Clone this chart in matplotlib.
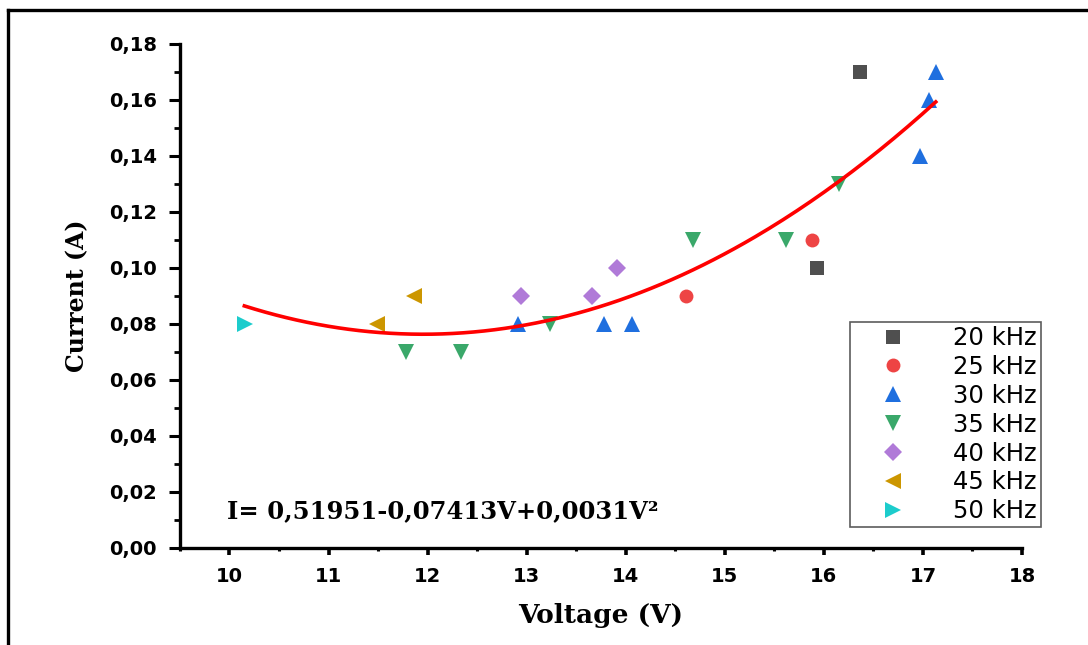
import matplotlib
matplotlib.use("Agg")
import matplotlib.pyplot as plt
import numpy as np
from matplotlib.lines import Line2D
from matplotlib.ticker import MultipleLocator, FuncFormatter

# ---- data ----
labels = ["20 kHz", "25 kHz", "30 kHz", "35 kHz", "40 kHz", "45 kHz", "50 kHz"]
v20 = [16.37, 15.93]
i20 = [0.17, 0.10]
v25 = [14.61, 15.88]
i25 = [0.09, 0.11]
v30 = [12.91, 13.78, 14.06, 16.97, 17.06, 17.13]
i30 = [0.08, 0.08, 0.08, 0.14, 0.16, 0.17]
v35 = [11.78, 12.34, 13.24, 14.68, 15.62, 16.15]
i35 = [0.07, 0.07, 0.08, 0.11, 0.11, 0.13]
v40 = [12.94, 13.66, 13.91]
i40 = [0.09, 0.09, 0.10]
v45 = [11.49, 11.86]
i45 = [0.08, 0.09]
v50 = [10.16]
i50 = [0.08]

# quadratic fit shown on the chart: I = a + b V + c V^2
fit_coeffs = [0.0031, -0.07413, 0.51951]
fit_range = [10.15, 17.13]
equation = "I= 0,51951-0,07413V+0,0031V²"

xticks = [10, 11, 12, 13, 14, 15, 16, 17, 18]
yticks = [0.00, 0.02, 0.04, 0.06, 0.08, 0.10, 0.12, 0.14, 0.16, 0.18]

series = [
    (v20, i20, "s", "#4f4f4f", 9.5),
    (v25, i25, "o", "#ee4444", 10),
    (v30, i30, "^", "#1f6fdf", 11.5),
    (v35, i35, "v", "#3aa86a", 11.5),
    (v40, i40, "D", "#b07ad8", 9),
    (v45, i45, "<", "#cc9600", 11.5),
    (v50, i50, ">", "#1ccccc", 11.5),
]

fig = plt.figure(figsize=(10.88, 6.45), dpi=100)
ax = fig.add_axes([0.1654, 0.1504, 0.9393 - 0.1654, 0.9318 - 0.1504])

for (xs, ys, mk, col, ms), lab in zip(series, labels):
    ax.plot(xs, ys, linestyle="none", marker=mk, color=col, markersize=ms,
            markeredgewidth=0, label=lab, zorder=3)

vv = np.linspace(fit_range[0], fit_range[1], 200)
ax.plot(vv, np.polyval(fit_coeffs, vv), color="#ff0000", lw=2.6, zorder=4)

ax.set_xlim(9.5, 18)
ax.set_ylim(0, 0.18)
ax.set_xticks(xticks)
ax.set_yticks(yticks)
ax.xaxis.set_minor_locator(MultipleLocator(0.5))
ax.yaxis.set_minor_locator(MultipleLocator(0.01))
ax.yaxis.set_major_formatter(FuncFormatter(lambda v, p: f"{v:.2f}".replace(".", ",")))
ax.xaxis.set_major_formatter(FuncFormatter(lambda v, p: f"{v:g}"))

for s in ["top", "right"]:
    ax.spines[s].set_visible(False)
for s in ["left", "bottom"]:
    ax.spines[s].set_linewidth(2.4)

ax.tick_params(axis="x", which="major", direction="out", length=5, width=2.6, pad=9)
ax.tick_params(axis="x", which="minor", direction="out", length=2.5, width=2.2)
ax.tick_params(axis="y", which="major", direction="out", length=8, width=2.2, pad=8.5)
ax.tick_params(axis="y", which="minor", direction="out", length=4.5, width=2.0)
for t in ax.get_xticklabels() + ax.get_yticklabels():
    t.set_fontfamily("DejaVu Sans")
    t.set_fontweight("bold")
    t.set_fontsize(14)

ax.set_xlabel("Voltage (V)", fontfamily="DejaVu Serif", fontweight="bold",
              fontsize=19, labelpad=12)
ax.set_ylabel("Current (A)", fontfamily="DejaVu Serif", fontweight="bold",
              fontsize=17, labelpad=14)

ax.text(0.0558, 0.073, equation, transform=ax.transAxes, ha="left", va="center",
        fontfamily="DejaVu Serif", fontweight="bold", fontsize=17.5)

leg = ax.legend(loc="upper right", bbox_to_anchor=(1.0226, 0.448),
                prop={"family": "DejaVu Sans", "size": 17.5},
                frameon=True, fancybox=False, edgecolor="#333333",
                borderpad=0.16, labelspacing=0.2, handlelength=3.2,
                handletextpad=0.9, borderaxespad=0)
leg.get_frame().set_linewidth(1.2)

# figure frame (left and top edges visible in the crop)
fig.add_artist(Line2D([0.0074, 0.0074], [0.0, 0.9845], transform=fig.transFigure,
                      color="black", lw=2.4))
fig.add_artist(Line2D([0.0074, 1.0], [0.9845, 0.9845], transform=fig.transFigure,
                      color="black", lw=2.4))

fig.savefig("out.png", dpi=100)
